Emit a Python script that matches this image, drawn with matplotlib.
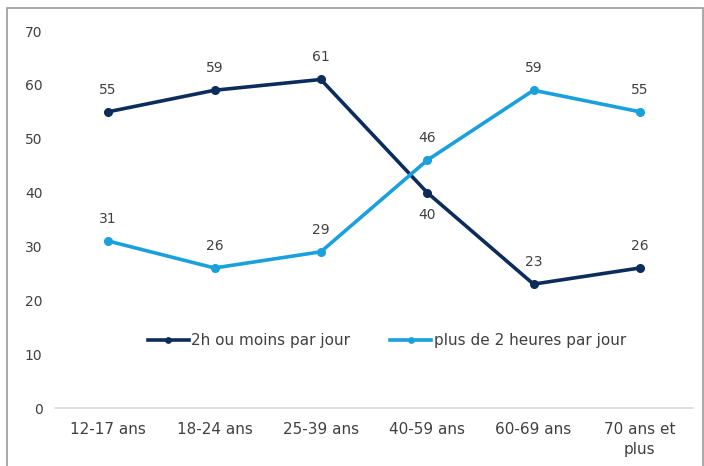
import matplotlib.pyplot as plt
import matplotlib.patches as mpatches

categories = ["12-17 ans", "18-24 ans", "25-39 ans", "40-59 ans", "60-69 ans", "70 ans et\nplus"]
moins_2h = [55, 59, 61, 40, 23, 26]
plus_2h = [31, 26, 29, 46, 59, 55]
series_names = ["2h ou moins par jour", "plus de 2 heures par jour"]

DARK = "#0c2d5c"
LIGHT = "#1aa0dc"
TXT = "#404040"

plt.rcParams["font.family"] = ["DejaVu Sans"]

fig = plt.figure(figsize=(7.04, 4.66), dpi=100)
fig.patches.append(mpatches.Rectangle(
    (7 / 704, -0.05), 696 / 704, 1.05 - 8 / 466,
    transform=fig.transFigure, fill=False, edgecolor="#9a9a9a", linewidth=1.2,
))

ax = fig.add_axes([55 / 704, 1 - 408 / 466, 638 / 704, (408 - 31) / 466])
x = range(len(categories))

ax.plot(x, moins_2h, color=DARK, lw=2.6, marker="o", ms=5.5, label=series_names[0])
ax.plot(x, plus_2h, color=LIGHT, lw=2.6, marker="o", ms=5.5, label=series_names[1])

for i, v in enumerate(moins_2h):
    off = -16 if i == 3 else 16
    ax.annotate(str(v), (i, v), xytext=(0, off), textcoords="offset points",
                ha="center", va="center", fontsize=10, color=TXT)
for i, v in enumerate(plus_2h):
    ax.annotate(str(v), (i, v), xytext=(0, 16), textcoords="offset points",
                ha="center", va="center", fontsize=10, color=TXT)

ax.set_xlim(-0.5, len(categories) - 0.5)
ax.set_ylim(0, 70)
ax.set_yticks(range(0, 71, 10))
ax.set_xticks(list(x))
ax.set_xticklabels(categories, fontsize=11, color=TXT, linespacing=1.45)
ax.tick_params(axis="y", length=0, pad=9, labelsize=10, labelcolor=TXT)
ax.tick_params(axis="x", length=0, pad=10)
for s in ["top", "right", "left"]:
    ax.spines[s].set_visible(False)
ax.spines["bottom"].set_color("#d9d9d9")
ax.spines["bottom"].set_linewidth(1.2)

ax.legend(loc="center", bbox_to_anchor=(0.52, 12.5 / 70), ncol=2, frameon=False,
          prop={"size": 11}, labelcolor=TXT, handlelength=2.7, handletextpad=0.15,
          columnspacing=2.6, markerscale=0.7)

fig.savefig("out.png", dpi=100, facecolor="white")
